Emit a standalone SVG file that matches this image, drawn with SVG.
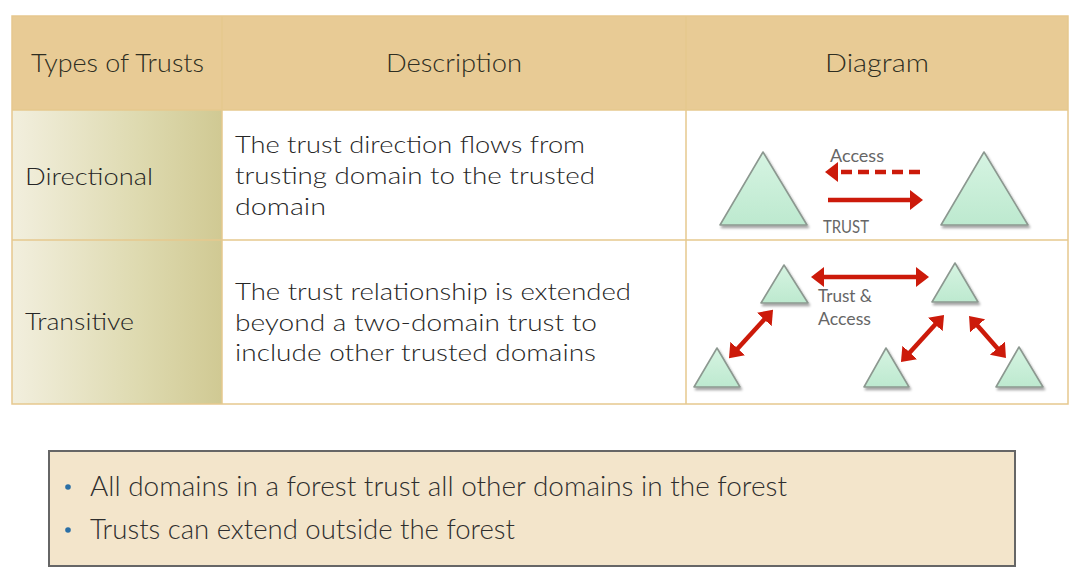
<svg xmlns="http://www.w3.org/2000/svg" width="1088" height="584" viewBox="0 0 1088 584">
<defs>
<style>
.t{font-family:Lato,"Open Sans","Liberation Sans",sans-serif;fill:#262626;font-weight:300;}
.big{font-size:24px;}
.hd{font-size:26px;fill:#2e2e22;}
.lbl{font-family:Lato,"Open Sans","Liberation Sans",sans-serif;font-size:17px;fill:#666;font-weight:400;}
.bul{font-size:27px;fill:#2e2e2e;}
.grid{stroke:#E6C88E;stroke-width:1.5;fill:none;}
.tri{fill:url(#triG);stroke:#8C9890;stroke-width:1.6;stroke-linejoin:round;filter:url(#sh);}
.arr{stroke:#CC1A0A;stroke-width:4.5;fill:none;}
.dash{stroke-dasharray:11 6;}
</style>
<linearGradient id="colG" x1="0" y1="0" x2="1" y2="0">
<stop offset="0" stop-color="#F2EFDE"/>
<stop offset="0.6" stop-color="#DEDAB0"/>
<stop offset="1" stop-color="#D0C993"/>
</linearGradient>
<linearGradient id="triG" x1="0" y1="0" x2="0" y2="1">
<stop offset="0" stop-color="#D6F4E2"/>
<stop offset="1" stop-color="#BDE9CF"/>
</linearGradient>
<filter id="sh" x="-20%" y="-20%" width="140%" height="150%">
<feDropShadow dx="1.5" dy="2.5" stdDeviation="1.2" flood-color="#000" flood-opacity="0.35"/>
</filter>
<marker id="ah" markerUnits="userSpaceOnUse" markerWidth="15" markerHeight="21" refX="2" refY="10" orient="auto-start-reverse">
<path d="M0,0 L13,10 L0,20 Z" fill="#CC1A0A"/>
</marker>
</defs>
<rect width="1088" height="584" fill="#fff"/>

<g id="table">
<rect x="12" y="16" width="1056" height="94" fill="#E8CB95"/>
<rect x="12" y="110" width="210" height="294" fill="url(#colG)"/>
<rect x="222" y="110" width="846" height="294" fill="#fff"/>
<rect x="12" y="16" width="1056" height="388" class="grid"/>
<line x1="222" y1="16" x2="222" y2="404" class="grid"/>
<line x1="686" y1="16" x2="686" y2="404" class="grid"/>
<line x1="12" y1="110" x2="1068" y2="110" class="grid"/>
<line x1="12" y1="240" x2="1068" y2="240" class="grid"/>
<text class="t hd" x="31" y="72" textLength="173" lengthAdjust="spacingAndGlyphs">Types of Trusts</text>
<text class="t hd" x="386" y="72" textLength="136" lengthAdjust="spacingAndGlyphs">Description</text>
<text class="t hd" x="825" y="72" textLength="104" lengthAdjust="spacingAndGlyphs">Diagram</text>
</g>

<g id="row-directional">
<text class="t big" x="25" y="185" textLength="128" lengthAdjust="spacingAndGlyphs">Directional</text>
<text class="t big" x="235" y="153" textLength="350" lengthAdjust="spacingAndGlyphs">The trust direction flows from</text>
<text class="t big" x="235" y="184" textLength="360" lengthAdjust="spacingAndGlyphs">trusting domain to the trusted</text>
<text class="t big" x="235" y="215" textLength="91" lengthAdjust="spacingAndGlyphs">domain</text>
</g>

<g id="row-transitive">
<text class="t big" x="25" y="330" textLength="109" lengthAdjust="spacingAndGlyphs">Transitive</text>
<text class="t big" x="235" y="300" textLength="396" lengthAdjust="spacingAndGlyphs">The trust relationship is extended</text>
<text class="t big" x="235" y="331" textLength="362" lengthAdjust="spacingAndGlyphs">beyond a two-domain trust to</text>
<text class="t big" x="235" y="361" textLength="361" lengthAdjust="spacingAndGlyphs">include other trusted domains</text>
</g>

<g id="dir-domain-a"><path class="tri" d="M763,152 L807,225 L720,225 Z"/></g>
<g id="dir-domain-b"><path class="tri" d="M984,152 L1028,225 L941,225 Z"/></g>

<g id="tr-domain-1"><path class="tri" d="M784,265 L808,303 L761,303 Z"/></g>
<g id="tr-domain-2"><path class="tri" d="M955,263 L978,302 L932,302 Z"/></g>
<g id="tr-domain-3"><path class="tri" d="M717,348 L740,387 L694,387 Z"/></g>
<g id="tr-domain-4"><path class="tri" d="M886,348 L909,387 L864,387 Z"/></g>
<g id="tr-domain-5"><path class="tri" d="M1019,347 L1043,387 L996,387 Z"/></g>

<g id="connectors">
<line class="arr dash" x1="920" y1="172" x2="836" y2="172" marker-end="url(#ah)"/>
<line class="arr" x1="828" y1="200" x2="912" y2="200" marker-end="url(#ah)"/>
<line class="arr" x1="822" y1="277" x2="918" y2="277" marker-start="url(#ah)" marker-end="url(#ah)"/>
<line class="arr" x1="736.4" y1="350" x2="765.6" y2="318" marker-start="url(#ah)" marker-end="url(#ah)"/>
<line class="arr" x1="908.4" y1="353.9" x2="936.6" y2="323.1" marker-start="url(#ah)" marker-end="url(#ah)"/>
<line class="arr" x1="976.3" y1="324.3" x2="998.7" y2="349.7" marker-start="url(#ah)" marker-end="url(#ah)"/>
<text class="lbl" x="830" y="162" textLength="54" lengthAdjust="spacingAndGlyphs">Access</text>
<text class="lbl" x="823" y="233" textLength="46" lengthAdjust="spacingAndGlyphs">TRUST</text>
<text class="lbl" x="818" y="302" textLength="54" lengthAdjust="spacingAndGlyphs">Trust &amp;</text>
<text class="lbl" x="818" y="325" textLength="53" lengthAdjust="spacingAndGlyphs">Access</text>
</g>

<g id="notes">
<rect x="49" y="451" width="966" height="115" fill="#F3E5CB" stroke="#666" stroke-width="2"/>
<circle cx="68" cy="487" r="2.8" fill="#2A6FA6"/>
<circle cx="68" cy="530" r="2.8" fill="#2A6FA6"/>
<text class="t bul" x="90" y="496" textLength="697" lengthAdjust="spacingAndGlyphs">All domains in a forest trust all other domains in the forest</text>
<text class="t bul" x="90" y="539" textLength="425" lengthAdjust="spacingAndGlyphs">Trusts can extend outside the forest</text>
</g>
</svg>
